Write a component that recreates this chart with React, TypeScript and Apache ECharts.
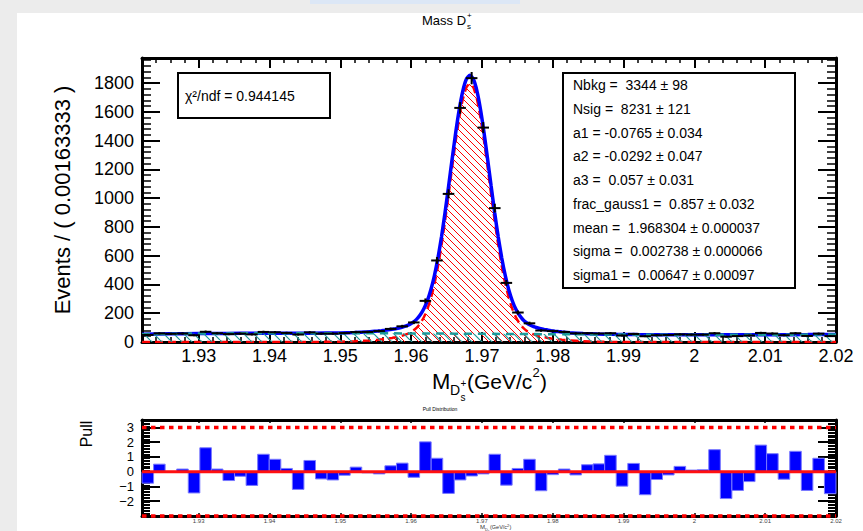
import React, { useEffect, useRef } from "react";
import * as echarts from "echarts";

const X_MIN = 1.922;
const X_MAX = 2.02;
const BIN_WIDTH = 0.00163333;
const Y_MAX = 1975;
const PULL_MIN = -3;
const PULL_MAX = 3.5;

// Event counts per bin (60 bins)
const dataCounts = [
  49, 60, 57, 59, 47, 71, 61, 55, 58, 53, 70, 68, 63, 52, 67, 58, 58, 62, 69, 70,
  76, 91, 109, 136, 286, 567, 1030, 1628, 1835, 1491, 931, 411, 205, 130, 80, 76, 70, 60, 61, 59,
  61, 45, 56, 40, 47, 49, 53, 51, 51, 61, 37, 41, 45, 63, 59, 47, 61, 42, 58, 41,
];

// Pull per bin
const pullValues = [
  -0.78, 0.51, 0.02, 0.18, -1.44, 1.62, 0.18, -0.6, -0.31, -0.93,
  1.18, 0.84, 0.22, -1.2, 0.76, -0.49, -0.56, -0.24, 0.31, -0.08,
  -0.15, 0.4, 0.58, -0.38, 2.02, 0.91, -1.47, -0.56, -0.29, -0.15,
  1.18, -0.91, 0.22, 0.84, -1.29, -0.2, 0.18, -0.22, 0.47, 0.53,
  1.11, -0.98, 0.56, -1.56, -0.53, -0.22, 0.36, 0.11, 0.13, 1.49,
  -1.82, -1.27, -0.67, 1.8, 1.22, -0.51, 1.38, -1.27, 0.91, -1.49,
];

// Fit curve sample positions
const fitX = [
  1.922, 1.926, 1.93, 1.934, 1.938, 1.942, 1.946, 1.95, 1.952, 1.954,
  1.9553, 1.9558, 1.9563, 1.9568, 1.9573, 1.9578, 1.9583, 1.9588, 1.9593, 1.9598,
  1.9603, 1.9608, 1.9613, 1.9618, 1.9623, 1.9628, 1.9633, 1.9638, 1.9643, 1.9648,
  1.9653, 1.9658, 1.9663, 1.9668, 1.9673, 1.9678, 1.9683, 1.9688, 1.9693, 1.9698,
  1.9703, 1.9708, 1.9713, 1.9718, 1.9723, 1.9728, 1.9733, 1.9738, 1.9743, 1.9748,
  1.9753, 1.9758, 1.9763, 1.9768, 1.9773, 1.9778, 1.9783, 1.9788, 1.9793, 1.9798,
  1.9803, 1.9808, 1.9813,
  1.9823, 1.9843, 1.9863, 1.9883, 1.992, 1.996, 2.0, 2.004, 2.008, 2.012, 2.016, 2.02,
];

// Total fit (blue)
const fitTotal = [
  54.7, 56.9, 58.5, 59.8, 60.6, 61.1, 61.5, 63.2, 65.8, 70.9,
  76.1, 78.6, 81.3, 84.4, 88.3, 92.7, 97.7, 104.0, 112.1, 122.9,
  138.0, 159.1, 188.9, 230.6, 288.0, 364.6, 463.3, 586.5, 733.8, 902.4,
  1085.8, 1274.6, 1456.5, 1618.1, 1745.3, 1826.8, 1854.8, 1826.6, 1744.8, 1617.4,
  1455.5, 1273.3, 1084.3, 900.6, 731.8, 584.2, 460.8, 361.9, 285.0, 227.4,
  185.4, 155.3, 134.0, 118.6, 107.6, 99.2, 92.7, 87.5, 82.8, 78.7,
  75.3, 72.3, 69.6,
  65.0, 58.7, 55.1, 53.2, 51.5, 50.8, 50.3, 50.1, 50.1, 50.5, 51.4, 52.5,
];

// Signal component (red dashed)
const fitSignal = [
  0, 0, 0, 0, 0, 0, 0.3, 2.2, 5.0, 10.3,
  15.7, 18.3, 21.2, 24.4, 28.4, 32.9, 38.0, 44.4, 52.6, 63.5,
  78.7, 99.9, 129.9, 171.7, 229.2, 305.9, 404.7, 528.0, 675.4, 844.1,
  1027.6, 1216.5, 1398.6, 1560.3, 1687.6, 1769.2, 1797.3, 1769.2, 1687.6, 1560.3,
  1398.6, 1216.5, 1027.6, 844.1, 675.4, 528.0, 404.7, 305.9, 229.2, 171.7,
  129.9, 99.9, 78.7, 63.5, 52.6, 44.4, 38.0, 32.9, 28.4, 24.4,
  21.2, 18.3, 15.7,
  11.4, 5.6, 2.5, 1.0, 0.1, 0, 0, 0, 0, 0, 0, 0,
];

// Background component (teal dashed)
const bkgX = [
  1.922, 1.9269, 1.9318, 1.9367, 1.9416, 1.9465, 1.9514, 1.9563, 1.9612, 1.9661,
  1.971, 1.9759, 1.9808, 1.9857, 1.9906, 1.9955, 2.0004, 2.0053, 2.0102, 2.0151, 2.02,
];
const bkgY = [
  54.7, 57.3, 59.2, 60.5, 61.1, 61.25, 60.9, 60.3, 59.3, 58.1,
  56.8, 55.4, 54.0, 52.75, 51.6, 50.7, 50.2, 50.0, 50.3, 51.1, 52.5,
];

const xTickLabels = [1.93, 1.94, 1.95, 1.96, 1.97, 1.98, 1.99, 2.0, 2.01, 2.02];
const yTickLabels = [0, 200, 400, 600, 800, 1000, 1200, 1400, 1600, 1800];
const pullTickMajors = [-3, -2, -1, 0, 1, 2, 3];
const pullTickLabels = [-2, -1, 0, 1, 2, 3];
const pullLimits = [3, -3];

const chi2Text = "χ²/ndf = 0.944145";
const fitParams = [
  "Nbkg =  3344 ± 98",
  "Nsig =  8231 ± 121",
  "a1 = -0.0765 ± 0.034",
  "a2 = -0.0292 ± 0.047",
  "a3 =  0.057 ± 0.031",
  "frac_gauss1 =  0.857 ± 0.032",
  "mean =  1.968304 ± 0.000037",
  "sigma =  0.002738 ± 0.000066",
  "sigma1 =  0.00647 ± 0.00097",
];

const FONT = "'Liberation Sans', Arial, Helvetica, sans-serif";

function range(start: number, end: number, step: number): number[] {
  const out: number[] = [];
  const n = Math.round((end - start) / step);
  for (let i = 0; i <= n; i++) out.push(Math.round((start + i * step) * 1e6) / 1e6);
  return out;
}

function hatch(color: string, w: number, h: number, lw: number) {
  const c = document.createElement("canvas");
  c.width = w;
  c.height = h;
  const ctx = c.getContext("2d")!;
  ctx.strokeStyle = color;
  ctx.lineWidth = lw;
  ctx.beginPath();
  for (const o of [-w, 0, w]) {
    ctx.moveTo(o, 0);
    ctx.lineTo(o + w, h);
  }
  ctx.stroke();
  return { image: c, repeat: "repeat", imageWidth: w, imageHeight: h };
}

const fmt = (v: number) => String(Math.round(v * 1000) / 1000);
const fmtMinus = (v: number) => (v < 0 ? "\u2212" + Math.abs(v) : String(v));

function axis(o: any) {
  return {
    type: "value",
    gridIndex: o.grid,
    min: o.min,
    max: o.max,
    position: o.pos,
    axisLine: { show: !!o.line, onZero: false, lineStyle: { color: "#000", width: 3 } },
    axisTick: {
      show: true,
      inside: true,
      length: o.len,
      customValues: o.ticks,
      lineStyle: { color: "#000", width: o.tw },
    },
    axisLabel: o.label
      ? {
          show: true,
          customValues: o.labelValues,
          formatter: o.formatter,
          fontSize: o.fontSize,
          fontFamily: FONT,
          color: o.labelColor || "#000",
          margin: o.margin,
        }
      : { show: false },
    splitLine: { show: false },
    minorTick: { show: false },
  };
}

export default function App() {
  const ref = useRef<HTMLDivElement>(null);

  useEffect(() => {
    document.body.style.margin = "0";
    const chart = echarts.init(ref.current!, undefined, { renderer: "svg", width: 863, height: 531 });

    const redHatch = hatch("#ff0000", 7, 7, 1);
    const tealHatch = hatch("#1b9a9a", 10, 10, 1.2);

    const binCenters = dataCounts.map((_, i) => X_MIN + (i + 0.5) * BIN_WIDTH);
    const xMinor = range(X_MIN, X_MAX, 0.002);
    const yMinor = range(0, 1960, 40);
    const pullMinor = range(-3, 3.5, 0.1);

    const xAxis = [
      axis({ grid: 0, min: X_MIN, max: X_MAX, pos: "bottom", line: true, len: 10, tw: 2, ticks: xTickLabels,
        label: true, labelValues: xTickLabels, formatter: fmt, fontSize: 18, margin: 5 }),
      axis({ grid: 0, min: X_MIN, max: X_MAX, pos: "bottom", line: false, len: 5, tw: 1.5, ticks: xMinor }),
      axis({ grid: 0, min: X_MIN, max: X_MAX, pos: "top", line: true, len: 10, tw: 2, ticks: xTickLabels }),
      axis({ grid: 0, min: X_MIN, max: X_MAX, pos: "top", line: false, len: 5, tw: 1.5, ticks: xMinor }),
      axis({ grid: 1, min: X_MIN, max: X_MAX, pos: "bottom", line: true, len: 3, tw: 1.5, ticks: xTickLabels,
        label: true, labelValues: xTickLabels, formatter: fmt, fontSize: 6, margin: 2, labelColor: "#444" }),
      axis({ grid: 1, min: X_MIN, max: X_MAX, pos: "top", line: true, len: 3, tw: 1.5, ticks: xTickLabels }),
    ];

    const yAxis = [
      axis({ grid: 0, min: 0, max: Y_MAX, pos: "left", line: true, len: 18, tw: 2, ticks: yTickLabels,
        label: true, labelValues: yTickLabels, formatter: fmt, fontSize: 18, margin: 8 }),
      axis({ grid: 0, min: 0, max: Y_MAX, pos: "left", line: false, len: 9, tw: 1.5, ticks: yMinor }),
      axis({ grid: 0, min: 0, max: Y_MAX, pos: "right", line: true, len: 18, tw: 2, ticks: yTickLabels }),
      axis({ grid: 0, min: 0, max: Y_MAX, pos: "right", line: false, len: 9, tw: 1.5, ticks: yMinor }),
      axis({ grid: 1, min: PULL_MIN, max: PULL_MAX, pos: "left", line: true, len: 18, tw: 2, ticks: pullTickMajors,
        label: true, labelValues: pullTickLabels, formatter: fmtMinus, fontSize: 13, margin: 8 }),
      axis({ grid: 1, min: PULL_MIN, max: PULL_MAX, pos: "left", line: false, len: 8, tw: 1, ticks: pullMinor }),
      axis({ grid: 1, min: PULL_MIN, max: PULL_MAX, pos: "right", line: true, len: 18, tw: 2, ticks: pullTickMajors }),
      axis({ grid: 1, min: PULL_MIN, max: PULL_MAX, pos: "right", line: false, len: 8, tw: 1, ticks: pullMinor }),
    ];

    const txt = (text: string, x: number, y: number, size: number, align = "left", extra: any = {}) => ({
      type: "text",
      x,
      y,
      z: 20,
      silent: true,
      ...extra,
      style: { text, fontSize: size, fontFamily: FONT, fill: "#000", align, verticalAlign: "middle", ...(extra.style || {}) },
    });

    const graphic: any[] = [
      { type: "rect", z: -100, silent: true, shape: { x: 17, y: 13, width: 846, height: 518 }, style: { fill: "#ffffff" } },
      { type: "rect", z: -100, silent: true, shape: { x: 310, y: 0, width: 210, height: 4 }, style: { fill: "#dce7f6" } },
      // title
      txt("Mass D", 422, 20, 13),
      txt("+", 467, 15, 8),
      txt("s", 467, 26, 8),
      // y title
      txt("Events / ( 0.00163333 )", 62, 200, 22, "center", { rotation: Math.PI / 2 }),
      // x title
      txt("M", 432, 381, 22),
      txt("D", 450, 390, 14),
      txt("+", 460.5, 383, 10),
      txt("s", 460.5, 397, 10),
      txt("(GeV/c", 467, 381, 21),
      txt("2", 532.5, 372, 13),
      txt(")", 540, 381, 21),
      // chi2 box
      { type: "rect", z: 18, silent: true, shape: { x: 178, y: 73, width: 152, height: 45 }, style: { fill: "#fff", stroke: "#000", lineWidth: 2 } },
      txt(chi2Text, 185, 96, 14),
      // param box
      { type: "rect", z: 18, silent: true, shape: { x: 563, y: 73, width: 232, height: 215 }, style: { fill: "#fff", stroke: "#000", lineWidth: 2 } },
      ...fitParams.map((p, i) => txt(p, 573, 85 + i * 23.75, 14)),
      // pull texts
      txt("Pull", 86, 434, 16, "center", { rotation: Math.PI / 2 }),
      txt("Pull Distribution", 440, 409, 5, "center"),
      txt("M", 480, 527, 6, "left", { style: { fill: "#333" } }),
      txt("D", 485, 529, 4, "left", { style: { fill: "#333" } }),
      txt("s", 488, 530.5, 3, "left", { style: { fill: "#333" } }),
      txt("(GeV/c", 490, 527, 5.5, "left", { style: { fill: "#333" } }),
      txt("2", 507, 525, 4, "left", { style: { fill: "#333" } }),
      txt(")", 509.5, 527, 5.5, "left", { style: { fill: "#333" } }),
    ];

    const option: any = {
      animation: false,
      backgroundColor: "#ececec",
      grid: [
        { left: 142, top: 58, width: 694, height: 284 },
        { left: 142, top: 420, width: 694, height: 96 },
      ],
      xAxis,
      yAxis,
      graphic,
      series: [
        {
          type: "line",
          name: "signal",
          xAxisIndex: 0,
          yAxisIndex: 0,
          data: fitX.map((x, i) => [x, fitSignal[i]]),
          symbol: "none",
          smooth: 0.2,
          lineStyle: { color: "#ff0000", width: 2.5, type: [8, 5] },
          areaStyle: { color: redHatch, opacity: 1 },
          z: 2,
        },
        {
          type: "line",
          name: "total",
          xAxisIndex: 0,
          yAxisIndex: 0,
          data: fitX.map((x, i) => [x, fitTotal[i]]),
          symbol: "none",
          smooth: 0.2,
          lineStyle: { color: "#0000ff", width: 3.5 },
          z: 3,
        },
        {
          type: "line",
          name: "background",
          xAxisIndex: 0,
          yAxisIndex: 0,
          data: bkgX.map((x, i) => [x, bkgY[i]]),
          symbol: "none",
          smooth: true,
          lineStyle: { color: "#1b9a9a", width: 2.5, type: [8, 6] },
          areaStyle: { color: tealHatch, opacity: 1 },
          z: 4,
        },
        {
          type: "custom",
          name: "data",
          xAxisIndex: 0,
          yAxisIndex: 0,
          data: binCenters.map((c, i) => [c, dataCounts[i], Math.sqrt(dataCounts[i])]),
          renderItem: (params: any, api: any) => {
            const x = api.value(0);
            const y = api.value(1);
            const e = api.value(2);
            const l = api.coord([x - BIN_WIDTH / 2, y]);
            const r = api.coord([x + BIN_WIDTH / 2, y]);
            const t = api.coord([x, y + e]);
            const b = api.coord([x, y - e]);
            return {
              type: "group",
              children: [
                { type: "line", shape: { x1: l[0], y1: l[1], x2: r[0], y2: r[1] }, style: { stroke: "#000", lineWidth: 2 } },
                { type: "line", shape: { x1: t[0], y1: t[1], x2: b[0], y2: b[1] }, style: { stroke: "#000", lineWidth: 2 } },
              ],
            };
          },
          z: 5,
        },
        {
          type: "custom",
          name: "pull",
          xAxisIndex: 4,
          yAxisIndex: 4,
          data: binCenters.map((c, i) => [c, pullValues[i]]),
          renderItem: (params: any, api: any) => {
            const x = api.value(0);
            const p = api.value(1);
            const a = api.coord([x - BIN_WIDTH / 2, Math.max(p, 0)]);
            const b = api.coord([x + BIN_WIDTH / 2, Math.min(p, 0)]);
            return {
              type: "rect",
              shape: { x: a[0], y: a[1], width: b[0] - a[0], height: b[1] - a[1] },
              style: { fill: "#0000ff", stroke: "#7a7aff", lineWidth: 1 },
            };
          },
          z: 2,
        },
        {
          type: "line",
          name: "zero",
          xAxisIndex: 4,
          yAxisIndex: 4,
          data: [[X_MIN, 0], [X_MAX, 0]],
          symbol: "none",
          lineStyle: { color: "#ff1010", width: 3 },
          z: 3,
        },
        ...pullLimits.map((lv) => ({
          type: "line",
          name: "limit" + lv,
          xAxisIndex: 4,
          yAxisIndex: 4,
          clip: false,
          data: [[X_MIN, lv], [X_MAX, lv]],
          symbol: "none",
          lineStyle: { color: "#ff0000", width: 3.5, type: [4.5, 4.5] },
          z: 4,
        })),
      ],
    };

    chart.setOption(option);
    return () => chart.dispose();
  }, []);

  return <div ref={ref} style={{ position: "absolute", left: 0, top: 0, width: 863, height: 531 }} />;
}
